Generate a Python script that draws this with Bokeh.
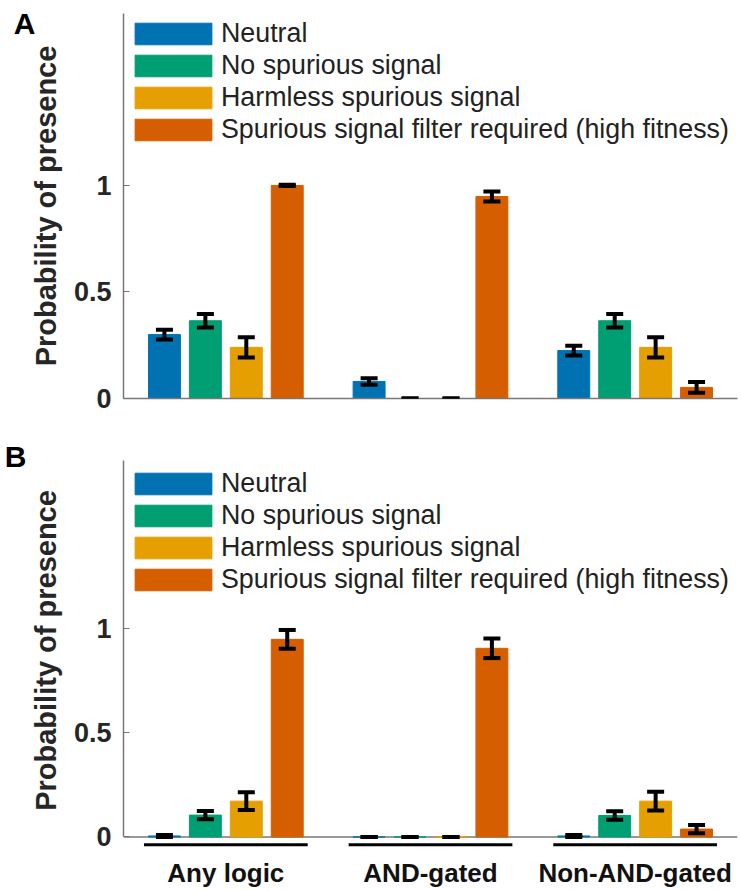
from bokeh.plotting import figure
from bokeh.models import (ColumnDataSource, Whisker, TeeHead, Legend, LegendItem,
                          LinearAxis, FixedTicker, Span, NumeralTickFormatter)
from bokeh.layouts import column
from bokeh.embed import file_html
from bokeh.resources import INLINE

# ---------------- data ----------------
groups = ["Any logic", "AND-gated", "Non-AND-gated"]
series = ["Neutral", "No spurious signal", "Harmless spurious signal",
          "Spurious signal filter required (high fitness)"]
colors = ["#0072B2", "#009E73", "#E69F00", "#D55E00"]

# Panel A
a_neutral = [0.30, 0.08, 0.225]
a_nospur = [0.365, 0.0, 0.365]
a_harmless = [0.24, 0.0, 0.24]
a_filter = [1.0, 0.948, 0.052]
a_neutral_err = [0.023, 0.015, 0.023]
a_nospur_err = [0.032, 0.0, 0.032]
a_harmless_err = [0.047, 0.0, 0.047]
a_filter_err = [0.003, 0.023, 0.025]

# Panel B
b_neutral = [0.005, 0.0, 0.005]
b_nospur = [0.105, 0.0, 0.103]
b_harmless = [0.172, 0.0, 0.172]
b_filter = [0.948, 0.905, 0.038]
b_neutral_err = [0.005, 0.0, 0.005]
b_nospur_err = [0.02, 0.0, 0.02]
b_harmless_err = [0.042, 0.0, 0.045]
b_filter_err = [0.045, 0.047, 0.02]

FONT = "Liberation Sans"
offsets = [-0.3, -0.1, 0.1, 0.3]
bar_w = 0.156
axis_col = "#777777"
Y_TOP = 1.807


def make_panel(vals, errs, letter, letter_y, letter_standoff, height, top,
               y_start, y_end, legend_loc, show_x):
    p = figure(width=741, height=height, x_range=(0.5, 3.5), y_range=(y_start, y_end),
               output_backend="svg", toolbar_location=None,
               min_border_left=123, min_border_right=4, min_border_top=top,
               min_border_bottom=32, background_fill_color="white")
    p.outline_line_color = None
    p.grid.visible = False

    items = []
    gx = [1, 2, 3]
    for k in range(4):
        xs = [g + offsets[k] for g in gx]
        src = ColumnDataSource(dict(x=xs, top=vals[k],
                                    upper=[v + e for v, e in zip(vals[k], errs[k])],
                                    lower=[v - e for v, e in zip(vals[k], errs[k])]))
        r = p.vbar(x="x", top="top", bottom=0, width=bar_w, source=src,
                   fill_color=colors[k], line_color=colors[k], line_width=1)
        w = Whisker(base="x", upper="upper", lower="lower", source=src,
                    dimension="height", line_color="black", line_width=4,
                    upper_head=TeeHead(size=17, line_width=4, line_color="black"),
                    lower_head=TeeHead(size=17, line_width=4, line_color="black"),
                    level="annotation")
        p.add_layout(w)
        items.append(LegendItem(label=series[k], renderers=[r]))

    leg = Legend(items=items, location=legend_loc, margin=0, padding=0,
                 glyph_width=96, glyph_height=27, label_height=27, spacing=1,
                 label_standoff=0, label_text_font=FONT, label_text_font_size="26.8px",
                 label_text_color="#222222",
                 background_fill_alpha=0, border_line_color=None)
    p.add_layout(leg)

    # y axis
    ya = p.yaxis[0]
    ya.ticker = FixedTicker(ticks=[0, 0.5, 1])
    ya.formatter = NumeralTickFormatter(format="0.[0]")
    ya.bounds = (0, Y_TOP)
    ya.axis_line_color = axis_col
    ya.axis_line_width = 1.5
    ya.major_tick_line_color = axis_col
    ya.major_tick_in = 6
    ya.major_tick_out = 0
    ya.minor_tick_line_color = None
    ya.major_label_text_font = FONT
    ya.major_label_text_font_size = "27px"
    ya.major_label_text_font_style = "bold"
    ya.major_label_text_color = "#262626"
    ya.major_label_standoff = 12
    ya.axis_label = "Probability of presence"
    ya.axis_label_text_font = FONT
    ya.axis_label_text_font_size = "29px"
    ya.axis_label_text_font_style = "bold"
    ya.axis_label_text_color = "#262626"
    ya.axis_label_standoff = 9

    # panel letter, drawn as the only label of an extra, line-less left axis
    la = LinearAxis(ticker=FixedTicker(ticks=[letter_y]),
                    major_label_overrides={letter_y: letter},
                    axis_line_color=None, major_tick_line_color=None,
                    minor_tick_line_color=None, major_tick_out=0, major_tick_in=0,
                    major_label_standoff=letter_standoff,
                    major_label_text_font=FONT, major_label_text_font_size="30px",
                    major_label_text_font_style="bold", major_label_text_color="black")
    p.add_layout(la, "left")

    xa = p.xaxis[0]
    xa.major_tick_line_color = None
    xa.minor_tick_line_color = None
    if show_x:
        xa.ticker = FixedTicker(ticks=[1, 2, 3])
        xa.axis_line_color = None
        xa.major_label_overrides = {1: groups[0], 2: groups[1], 3: groups[2]}
        xa.major_label_text_font = FONT
        xa.major_label_text_font_size = "26px"
        xa.major_label_text_font_style = "bold"
        xa.major_label_text_color = "#111111"
        xa.major_label_standoff = 2
        p.add_layout(Span(location=0, dimension="width", line_color=axis_col,
                          line_width=1.5, level="underlay"))
        p.segment(x0=[g - 0.4 for g in gx], x1=[g + 0.4 for g in gx],
                  y0=-0.0376, y1=-0.0376, line_color="black", line_width=3)
    else:
        xa.ticker = FixedTicker(ticks=[])
        xa.axis_line_color = axis_col
        xa.axis_line_width = 1.5

    return p


pA = make_panel([a_neutral, a_nospur, a_harmless, a_filter],
                [a_neutral_err, a_nospur_err, a_harmless_err, a_filter_err],
                "A", 1.761, -9, 430, 13, 0.0, Y_TOP, (2, 253), False)
pB = make_panel([b_neutral, b_nospur, b_harmless, b_filter],
                [b_neutral_err, b_nospur_err, b_harmless_err, b_filter_err],
                "B", 1.826, 0, 460, 21, -0.06, 1.849, (2, 254), True)

layout = column(pA, pB, spacing=0)
open("out.html", "w").write(file_html(layout, INLINE))
